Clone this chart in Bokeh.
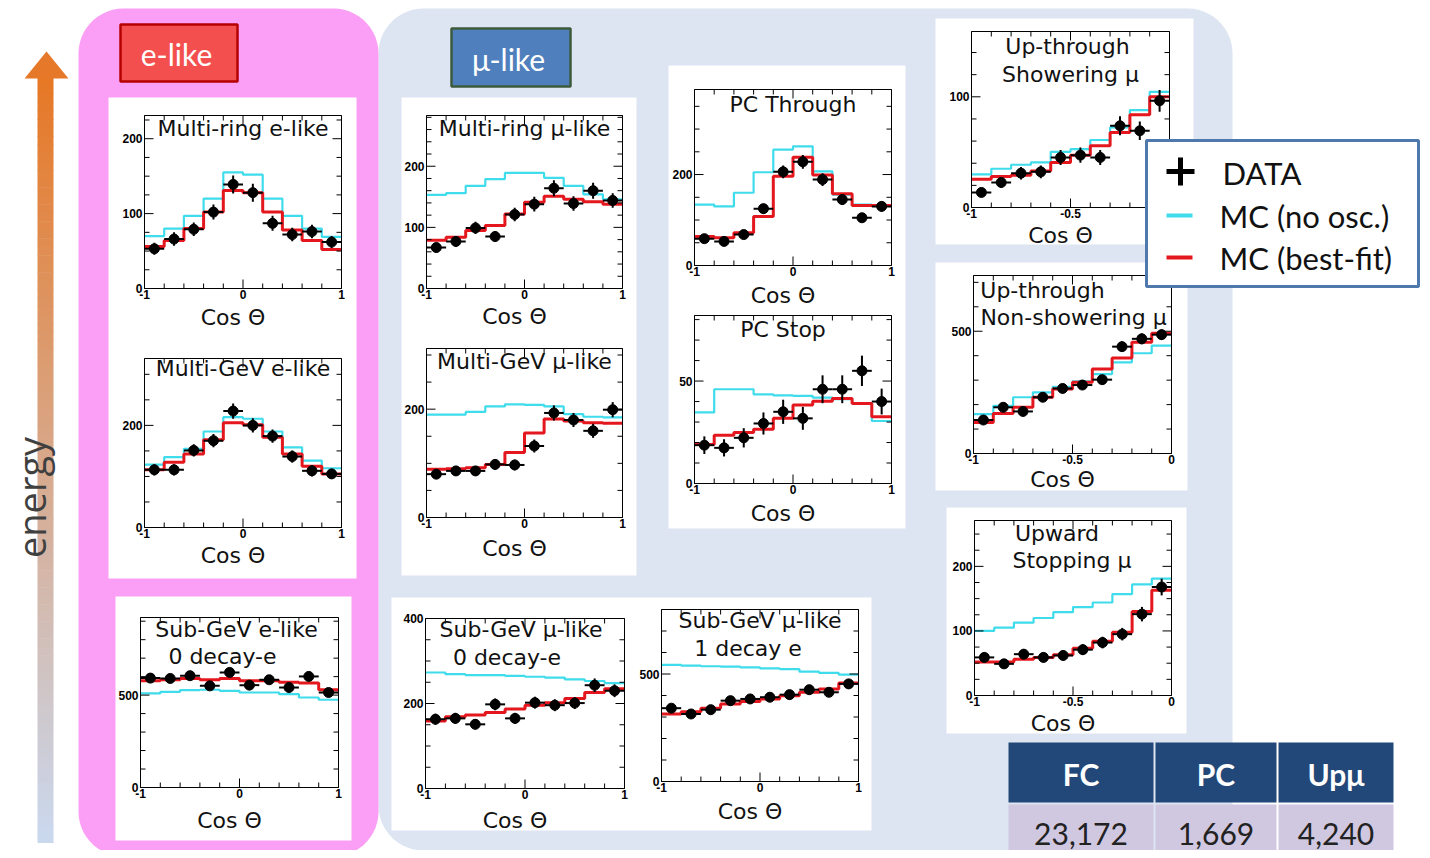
import numpy as np
from bokeh.plotting import figure
from bokeh.models import Range1d
from bokeh.core.properties import value
from bokeh.embed import file_html
from bokeh.resources import INLINE

# ---------------- data ----------------
cos_fc = [-0.9, -0.7, -0.5, -0.3, -0.1, 0.1, 0.3, 0.5, 0.7, 0.9]
cos_up = [-0.95, -0.85, -0.75, -0.65, -0.55, -0.45, -0.35, -0.25, -0.15, -0.05]

mre_data = [53, 66, 79, 102, 139, 128, 87, 72, 76, 62]
mre_err = [8, 9, 9, 10, 12, 12, 10, 9, 9, 8]
mre_noosc = [70, 80, 97, 120, 155, 152, 120, 97, 80, 69]
mre_fit = [56, 64, 80, 102, 131, 128, 102, 78, 64, 52]

mge_data = [113, 113, 151, 170, 228, 200, 179, 139, 111, 105]
mge_err = [11, 11, 12, 13, 15, 14, 13, 12, 11, 10]
mge_noosc = [123, 138, 154, 188, 216, 213, 188, 157, 131, 116]
mge_fit = [113, 128, 144, 172, 205, 201, 177, 144, 120, 105]

sge_data = [592, 590, 605, 550, 623, 554, 583, 541, 601, 514]
sge_err = [24, 24, 25, 23, 25, 24, 24, 23, 25, 23]
sge_noosc = [509, 518, 527, 529, 523, 514, 514, 505, 487, 475]
sge_fit = [578, 583, 590, 583, 590, 578, 578, 569, 565, 529]

mrm_data = [67, 77, 99, 85, 121, 138, 164, 139, 160, 144]
mrm_err = [8, 9, 10, 9, 11, 12, 13, 12, 13, 12]
mrm_noosc = [153, 156, 168, 179, 189, 189, 181, 168, 154, 146]
mrm_fit = [79, 84, 95, 103, 122, 141, 151, 146, 142, 138]

mgm_data = [80, 86, 86, 98, 97, 132, 193, 180, 160, 199]
mgm_err = [9, 9, 9, 10, 10, 12, 14, 13, 13, 14]
mgm_noosc = [190, 190, 195, 205, 209, 208, 205, 191, 186, 185]
mgm_fit = [89, 90, 92, 98, 120, 156, 182, 178, 175, 174]

sgm0_data = [163, 165, 151, 198, 165, 202, 196, 201, 243, 230]
sgm0_err = [13, 13, 12, 14, 13, 14, 14, 14, 16, 15]
sgm0_noosc = [273, 269, 267, 267, 265, 263, 261, 257, 253, 248]
sgm0_fit = [159, 169, 173, 179, 187, 196, 202, 212, 226, 235]

sgm1_data = [341, 314, 334, 376, 384, 392, 404, 427, 415, 454]
sgm1_err = [18, 18, 18, 19, 20, 20, 20, 21, 20, 21]
sgm1_noosc = [542, 539, 536, 534, 531, 526, 523, 511, 505, 497]
sgm1_fit = [314, 325, 341, 361, 372, 384, 399, 415, 430, 458]

pct_data = [59, 53, 68, 125, 206, 228, 189, 145, 105, 130]
pct_err = [8, 7, 8, 11, 14, 15, 14, 12, 10, 11]
pct_noosc = [134, 130, 160, 205, 255, 262, 207, 156, 134, 132]
pct_fit = [64, 61, 72, 108, 196, 238, 199, 158, 132, 132]

pcs_data = [18.7, 17.4, 22.3, 29.3, 35, 31.8, 46, 46, 55, 40]
pcs_err = [4.3, 4.2, 4.7, 5.4, 5.9, 5.6, 6.8, 6.8, 7.4, 6.3]
pcs_noosc = [34.7, 46, 46, 43.5, 43, 42.8, 41.9, 41.2, 39.1, 30.5]
pcs_fit = [19, 23.6, 24.9, 26.5, 31.8, 38.3, 40.2, 41.5, 39.1, 32.6]

ups_data = [13.6, 22.6, 31, 32.2, 45.2, 47.3, 45.2, 73.8, 69.3, 96.4]
ups_err = [3.7, 4.8, 5.6, 5.7, 6.7, 6.9, 6.7, 8.6, 8.3, 9.8]
ups_noosc = [30, 35, 38.6, 40.7, 50.3, 52.7, 61, 72.3, 88, 104.5]
ups_fit = [25.6, 28, 29.2, 33, 40.7, 47.3, 55.7, 67.8, 83.7, 100]

upn_data = [137, 189, 172, 230, 266, 280, 302, 437, 469, 486]
upn_err = [12, 14, 13, 15, 16, 17, 17, 21, 22, 22]
upn_noosc = [161, 195, 230, 250, 273, 295, 325, 373, 410, 441]
upn_fit = [127, 164, 189, 230, 264, 291, 346, 391, 455, 492]

ust_data = [59, 49, 64, 59, 62, 71, 82, 95, 126, 168]
ust_err = [7.7, 7, 8, 7.7, 7.9, 8.4, 9, 9.7, 11.2, 13]
ust_noosc = [100, 105, 113, 120, 129, 137, 144, 157, 172, 181]
ust_fit = [52, 52, 56, 59, 63, 73, 84, 98, 130, 163]

table_headers = ["FC", "PC", "Upμ"]
table_counts = ["23,172", "1,669", "4,240"]
legend_labels = ["DATA", "MC (no osc.)", "MC (best-fit)"]

# ---------------- style ----------------
CYAN = "#3fdcec"
RED = "#e3171d"
PINK = "#fb9ef5"
BLUE_BG = "#dce5f1"
TXT_FONT = value("DejaVu Sans")
TICK_FONT = value("Liberation Sans")
UI_FONT = value("Lato")

W, H = 1422, 850
p = figure(width=W, height=H, x_range=Range1d(0, W), y_range=Range1d(H, 0),
           output_backend="svg", toolbar_location=None, min_border=0,
           x_axis_type=None, y_axis_type=None)
p.outline_line_color = None
p.grid.visible = False
p.background_fill_color = "white"
p.border_fill_color = "white"


def rrect(x0, x1, y0, y1, r, n=14):
    xs, ys = [], []
    for cx, cy, a0 in [(x1 - r, y0 + r, -90), (x1 - r, y1 - r, 0),
                       (x0 + r, y1 - r, 90), (x0 + r, y0 + r, 180)]:
        for t in np.linspace(a0, a0 + 90, n):
            xs.append(cx + r * np.cos(np.radians(t)))
            ys.append(cy + r * np.sin(np.radians(t)))
    return xs, ys


# backgrounds
bx, by = rrect(378, 1232, 8, 850, 45)
p.patch(bx, by, fill_color=BLUE_BG, line_color=None)
px_, py_ = rrect(78, 378, 8, 856, 45)
p.patch(px_, py_, fill_color=PINK, line_color=None)

# white cards
cards = [(108, 356, 97, 578), (115, 351, 596, 840), (401, 636, 97, 575),
         (391, 871, 597, 830), (668, 905, 65, 528), (935, 1193, 18, 244),
         (935, 1187, 262, 490), (946, 1186, 507, 733)]
p.quad(left=[c[0] for c in cards], right=[c[1] for c in cards],
       top=[c[2] for c in cards], bottom=[c[3] for c in cards],
       fill_color="white", line_color=None)

panels = [
    dict(name="mre", frame=(144, 341, 115, 288), xlim=(-1, 1), ylim=(0, 231), x=cos_fc,
         data=mre_data, err=mre_err, noosc=mre_noosc, fit=mre_fit,
         ylab=[0, 100, 200], ystep=25, xlab=[-1, 0, 1], xstep=0.2,
         title=[("Multi-ring e-like", 0, 13)], xl_dy=29),
    dict(name="mge", frame=(144, 341, 358, 527), xlim=(-1, 1), ylim=(0, 331), x=cos_fc,
         data=mge_data, err=mge_err, noosc=mge_noosc, fit=mge_fit,
         ylab=[0, 200], ystep=50, xlab=[-1, 0, 1], xstep=0.2,
         title=[("Multi-GeV e-like", 0, 10)], xl_dy=28),
    dict(name="sge", frame=(140, 338, 617, 787), xlim=(-1, 1), ylim=(0, 920), x=cos_fc,
         data=sge_data, err=sge_err, noosc=sge_noosc, fit=sge_fit,
         ylab=[0, 500], ystep=100, xlab=[-1, 0, 1], xstep=0.2,
         title=[("Sub-GeV e-like", -3, 12), ("0 decay-e", -17, 39)], xl_dy=33),
    dict(name="mrm", frame=(426, 622, 115, 288), xlim=(-1, 1), ylim=(0, 283), x=cos_fc,
         data=mrm_data, err=mrm_err, noosc=mrm_noosc, fit=mrm_fit,
         ylab=[0, 100, 200], ystep=20, xlab=[-1, 0, 1], xstep=0.2,
         title=[("Multi-ring μ-like", 0, 13)], xl_dy=28),
    dict(name="mgm", frame=(426, 622, 348, 517), xlim=(-1, 1), ylim=(0, 312), x=cos_fc,
         data=mgm_data, err=mgm_err, noosc=mgm_noosc, fit=mgm_fit,
         ylab=[0, 200], ystep=50, xlab=[-1, 0, 1], xstep=0.2,
         title=[("Multi-GeV μ-like", 0, 13)], xl_dy=31),
    dict(name="sgm0", frame=(425, 624, 618, 788), xlim=(-1, 1), ylim=(0, 400), x=cos_fc,
         data=sgm0_data, err=sgm0_err, noosc=sgm0_noosc, fit=sgm0_fit,
         ylab=[0, 200, 400], ystep=50, xlab=[-1, 0, 1], xstep=0.2,
         title=[("Sub-GeV μ-like", -4, 11), ("0 decay-e", -18, 39)], xl_dy=32),
    dict(name="sgm1", frame=(661, 858, 609, 781), xlim=(-1, 1), ylim=(0, 800), x=cos_fc,
         data=sgm1_data, err=sgm1_err, noosc=sgm1_noosc, fit=sgm1_fit,
         ylab=[0, 500], ystep=100, xlab=[-1, 0, 1], xstep=0.2,
         title=[("Sub-GeV μ-like", 0, 11), ("1 decay e", -12, 39)], xl_dy=30),
    dict(name="pct", frame=(694, 891, 89, 265), xlim=(-1, 1), ylim=(0, 387), x=cos_fc,
         data=pct_data, err=pct_err, noosc=pct_noosc, fit=pct_fit,
         ylab=[0, 200], ystep=50, xlab=[-1, 0, 1], xstep=0.2,
         title=[("PC Through", 0, 15)], xl_dy=30),
    dict(name="pcs", frame=(694, 891, 315, 483), xlim=(-1, 1), ylim=(0, 82), x=cos_fc,
         data=pcs_data, err=pcs_err, noosc=pcs_noosc, fit=pcs_fit,
         ylab=[0, 50], ystep=10, xlab=[-1, 0, 1], xstep=0.2,
         title=[("PC Stop", -10, 14)], xl_dy=30),
    dict(name="ups", frame=(971, 1169, 31, 207), xlim=(-1, 0), ylim=(0, 159), x=cos_up,
         data=ups_data, err=ups_err, noosc=ups_noosc, fit=ups_fit,
         ylab=[0, 100], ystep=20, xlab=[-1, -0.5, 0], xstep=0.1,
         title=[("Up-through", -3, 15), ("Showering μ", 0, 43)], xl_dy=28),
    dict(name="upn", frame=(973, 1171, 275, 453), xlim=(-1, 0), ylim=(0, 728), x=cos_up,
         data=upn_data, err=upn_err, noosc=upn_noosc, fit=upn_fit,
         ylab=[0, 500], ystep=100, xlab=[-1, -0.5, 0], xstep=0.1,
         title=[("Up-through", -30, 15), ("Non-showering μ", 1, 42)], xl_dy=26),
    dict(name="ust", frame=(974, 1171, 520, 695), xlim=(-1, 0), ylim=(0, 271), x=cos_up,
         data=ust_data, err=ust_err, noosc=ust_noosc, fit=ust_fit,
         ylab=[0, 100, 200], ystep=25, xlab=[-1, -0.5, 0], xstep=0.1,
         title=[("Upward", -16, 13), ("Stopping μ", -1, 40)], xl_dy=28),
]

xr, yr = {}, {}


def draw_panel(pc):
    L, R, T, B = pc["frame"]
    x0, x1 = pc["xlim"]
    y0, y1 = pc["ylim"]
    nm = pc["name"]
    kx = (x1 - x0) / ((R - L) / W)
    sx = x0 - (L / W) * kx
    ky = (y1 - y0) / ((B - T) / H)
    sy = y0 - ((H - B) / H) * ky
    xr[nm] = Range1d(sx, sx + kx)
    yr[nm] = Range1d(sy, sy + ky)
    kw = dict(x_range_name=nm, y_range_name=nm)
    ppx = (R - L) / (x1 - x0)
    ppy = (B - T) / (y1 - y0)
    n = len(pc["data"])
    edges = list(np.linspace(x0, x1, n + 1))
    p.step(edges, list(pc["noosc"]) + [pc["noosc"][-1]], mode="after",
           line_color=CYAN, line_width=2.2, **kw)
    p.step(edges, list(pc["fit"]) + [pc["fit"][-1]], mode="after",
           line_color=RED, line_width=3, **kw)
    xc = np.array(pc["x"], dtype=float)
    d = np.array(pc["data"], dtype=float)
    e = np.array(pc["err"], dtype=float)
    hw = (x1 - x0) / n / 2
    p.segment(xc - hw, d, xc + hw, d, line_color="black", line_width=2, **kw)
    p.segment(xc, d - e, xc, d + e, line_color="black", line_width=2, **kw)
    p.scatter(xc, d, size=10, color="black", **kw)
    # frame
    p.quad(left=[x0], right=[x1], bottom=[y0], top=[y1], fill_color=None,
           line_color="black", line_width=1, **kw)
    # ticks (all four sides, pointing inwards)
    xt = np.arange(x0, x1 + 1e-9, pc["xstep"])
    xlen = np.array([9 if any(abs(v - m) < 1e-6 for m in pc["xlab"]) else 5 for v in xt]) / ppy
    p.segment(xt, [y0] * len(xt), xt, y0 + xlen, line_color="black", line_width=1, **kw)
    p.segment(xt, [y1] * len(xt), xt, y1 - xlen, line_color="black", line_width=1, **kw)
    yt = np.arange(y0, y1, pc["ystep"])
    ylen = np.array([9 if any(abs(v - m) < 1e-6 for m in pc["ylab"]) else 5 for v in yt]) / ppx
    p.segment([x0] * len(yt), yt, x0 + ylen, yt, line_color="black", line_width=1, **kw)
    p.segment([x1] * len(yt), yt, x1 - ylen, yt, line_color="black", line_width=1, **kw)
    # tick labels
    p.text(x=[x0] * len(pc["ylab"]), y=pc["ylab"], text=[f"{v:g}" for v in pc["ylab"]],
           x_offset=-2, text_align="right", text_baseline="middle",
           text_font=TICK_FONT, text_font_style="bold", text_font_size="12px",
           text_color="black", **kw)
    p.text(x=pc["xlab"], y=[y0] * len(pc["xlab"]), text=[f"{v:g}" for v in pc["xlab"]],
           y_offset=1, text_align="center", text_baseline="top",
           text_font=TICK_FONT, text_font_style="bold", text_font_size="12px",
           text_color="black", **kw)
    # titles and axis label (pixel layout)
    cx = (L + R) / 2
    p.text(x=[cx + t[1] for t in pc["title"]], y=[T + t[2] for t in pc["title"]],
           text=[t[0] for t in pc["title"]], text_align="center", text_baseline="middle",
           text_font=TXT_FONT, text_font_size="22px", text_color="#111111")
    p.text(x=[cx - 10], y=[B + pc["xl_dy"]], text=["Cos Θ"], text_align="center",
           text_baseline="middle", text_font=TXT_FONT, text_font_size="22px",
           text_color="#111111")


for pc in panels:
    draw_panel(pc)

p.extra_x_ranges = xr
p.extra_y_ranges = yr

# e-like / mu-like tags
p.quad(left=[120], right=[237], top=[24], bottom=[81], fill_color="#f44f4f",
       line_color="#b50000", line_width=2.5)
p.text(x=[176], y=[53], text=["e-like"], text_align="center", text_baseline="middle",
       text_font=UI_FONT, text_font_size="30px", text_color="white")
p.quad(left=[451], right=[570], top=[28], bottom=[86], fill_color="#4f80bd",
       line_color="#3c5a3c", line_width=2.5)
p.text(x=[508], y=[58], text=["μ-like"], text_align="center", text_baseline="middle",
       text_font=UI_FONT, text_font_size="30px", text_color="white")

# energy arrow with gradient
top_rgb = np.array([230, 120, 38])
bot_rgb = np.array([202, 216, 238])
nseg = 90
edges_y = np.linspace(76, 842, nseg + 1)
cols = []
for i in range(nseg):
    f = i / (nseg - 1)
    c = (1 - f) * top_rgb + f * bot_rgb
    cols.append("#%02x%02x%02x" % tuple(int(round(v)) for v in c))
p.quad(left=[37] * nseg, right=[53] * nseg, top=list(edges_y[:-1]),
       bottom=list(edges_y[1:] + 0.6), fill_color=cols, line_color=None)
p.patch([24, 68, 46], [78, 78, 51], fill_color="#e6782a", line_color=None)
p.text(x=[30], y=[497], text=["energy"], angle=np.pi / 2, text_align="center",
       text_baseline="middle", text_font=value("Open Sans"), text_font_size="38px",
       text_color="#404040")

# legend
p.quad(left=[1146], right=[1418], top=[140], bottom=[286], fill_color="white",
       line_color="#4f79ad", line_width=3)
p.scatter([1180], [171], marker="cross", size=28, line_width=5, line_color="black")
p.segment([1166, 1166], [215, 257], [1192, 1192], [215, 257],
          line_color=[CYAN, RED], line_width=4)
p.text(x=[1222, 1219, 1219], y=[172, 215, 257], text=legend_labels, text_align="left",
       text_baseline="middle", text_font=UI_FONT, text_font_size="31px", text_color="#111111")

# table
cell_l = [1008, 1155, 1278]
cell_r = [1153, 1276, 1393]
p.quad(left=cell_l, right=cell_r, top=[742] * 3, bottom=[802] * 3,
       fill_color="#22487a", line_color=None)
p.quad(left=cell_l, right=cell_r, top=[804] * 3, bottom=[860] * 3,
       fill_color="#d0c7e1", line_color=None)
cx_cells = [(a + b) / 2 for a, b in zip(cell_l, cell_r)]
p.text(x=cx_cells, y=[773] * 3, text=table_headers, text_align="center",
       text_baseline="middle", text_font=UI_FONT, text_font_style="bold",
       text_font_size="30px", text_color="white")
p.text(x=cx_cells, y=[833] * 3, text=table_counts, text_align="center",
       text_baseline="middle", text_font=UI_FONT, text_font_size="30px",
       text_color="#222222")

open("out.html", "w").write(file_html(p, INLINE))
